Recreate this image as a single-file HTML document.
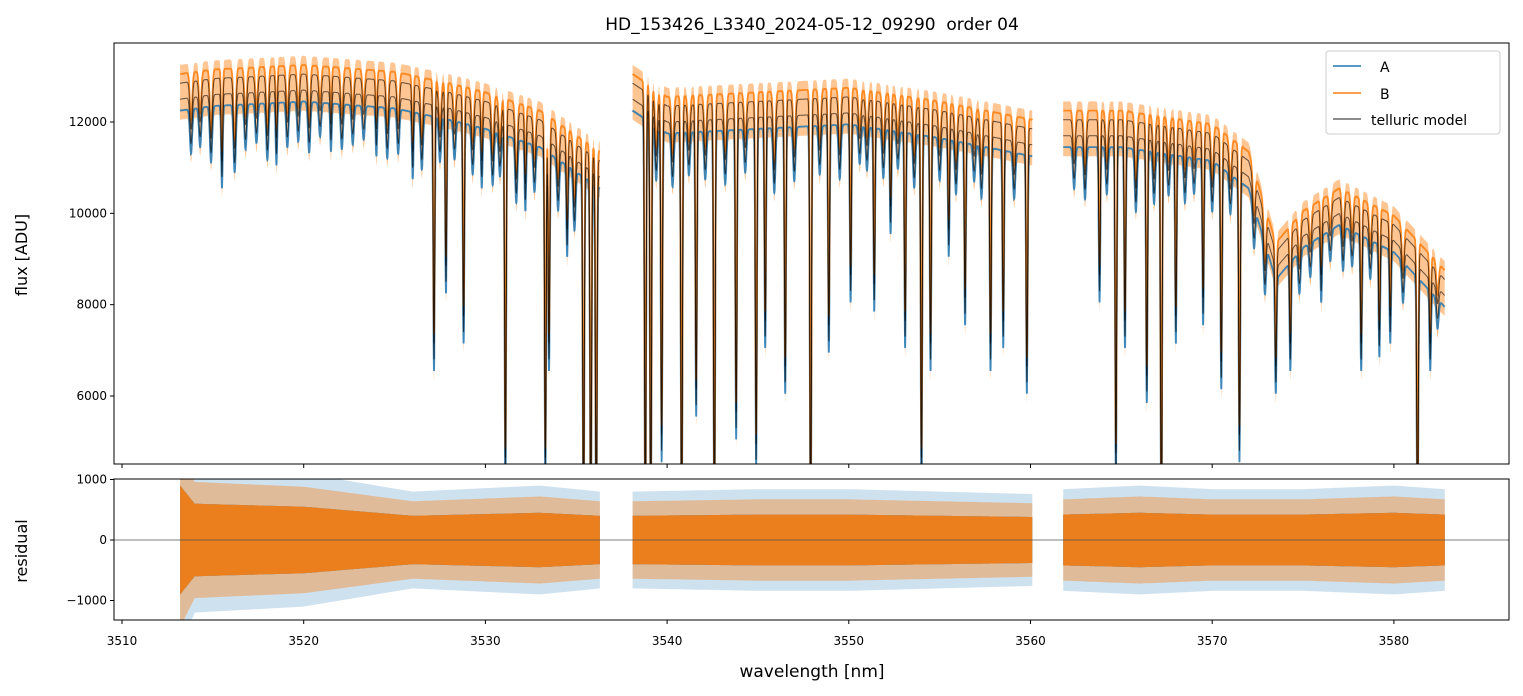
<!DOCTYPE html>
<html><head><meta charset="utf-8">
<style>
html,body{margin:0;padding:0;background:#fff;}
svg{display:block;font-family:"DejaVu Sans","Liberation Sans",sans-serif;}
</style></head>
<body>
<svg id="chart" width="1523" height="696" viewBox="0 0 1523 696" xmlns="http://www.w3.org/2000/svg">
<rect width="1523" height="696" fill="#fff"/>
<text x="812" y="30" font-size="17" text-anchor="middle" style="white-space:pre">HD_153426_L3340_2024-05-12_09290  order 04</text>
<g id="gtop"></g>
<g id="gbot"></g>
<text x="27" y="255" font-size="16" text-anchor="middle" transform="rotate(-90 27 255)">flux [ADU]</text>
<text x="27" y="551" font-size="16" text-anchor="middle" transform="rotate(-90 27 551)">residual</text>
<text x="812" y="677" font-size="17" text-anchor="middle">wavelength [nm]</text>
<g>
<rect x="1326" y="51" width="174" height="83" rx="3" fill="#fff" fill-opacity="0.8" stroke="#ccc"/>
<line x1="1333" y1="66" x2="1361" y2="66" stroke="#1f77b4" stroke-width="1.5"/>
<text x="1380" y="72" font-size="14">A</text>
<line x1="1333" y1="93" x2="1361" y2="93" stroke="#ff7f0e" stroke-width="1.5"/>
<text x="1380" y="99" font-size="14">B</text>
<line x1="1333" y1="119" x2="1361" y2="119" stroke="#000" stroke-opacity="0.6" stroke-width="1.5"/>
<text x="1371" y="125" font-size="14">telluric model</text>
</g>
</svg>
<script>
// ---- data ----
const segments = [[3513.2,3536.3],[3538.1,3560.1],[3561.8,3582.8]];
const contWl = [3513.2,3515,3520,3525,3528,3530,3533,3536.3, 3538.1,3540,3545,3550,3555,3560.1, 3561.8,3565,3570,3572,3573.5,3575,3577,3580,3582.8];
const contFlux = [12700,12800,12900,12750,12500,12300,11900,11000, 12700,12200,12300,12400,12100,11700, 11900,11900,11600,11000,9000,9700,10200,9600,8400];
const lineWl = [3515.5,3518.5,3521.5,3524,3526,3527.17,3527.83,3528.8,3529.8,3531.1,3532.2,3533.3,3533.5,3534.5,3535.4,3535.8,3536.1,
 3538.8,3539.1,3539.7,3540.8,3541.6,3542.6,3543.8,3544.9,3545.4,3546.5,3547.9,3548.9,3550.1,3551.4,3552.3,3553.1,3554.0,3554.5,3555.5,3556.4,3557.8,3558.5,3559.8,
 3563.8,3564.7,3565.2,3566.4,3567.2,3568.0,3569.5,3570.5,3571.5,3573.5,3574.3,3576.0,3578.2,3579.2,3579.8,3581.3,3582.0];
const lineMin = [11000,11500,11800,11700,11200,7000,8700,7600,11000,4500,10500,4500,7000,9500,3000,3000,3000,
 3000,3000,5000,3000,6000,3000,5500,4800,7500,6500,3000,7400,8500,8300,10000,7500,4500,7000,9500,8000,7000,7500,6500,
 8500,4600,7500,6300,3000,7600,8000,6600,5000,6500,7000,8500,7000,7300,7600,3000,7000];
const weakWl = [3513.8,3514.3,3514.9,3516.2,3516.8,3517.4,3518.0,3519.1,3519.7,3520.3,3520.9,3522.1,3522.7,3523.3,3524.6,3525.2,3526.5,3527.5,3528.3,3529.3,3530.4,3530.8,3531.7,3532.7,3534.0,3534.9,
 3539.4,3540.3,3541.2,3542.1,3543.2,3544.3,3545.9,3547.0,3548.4,3549.5,3550.6,3551.0,3551.9,3552.7,3553.6,3555.0,3555.9,3556.9,3557.3,3559.1,
 3562.4,3563.0,3564.2,3565.8,3566.8,3567.6,3568.5,3569.0,3570.0,3571.0,3572.3,3572.9,3574.8,3575.4,3576.5,3577.2,3577.7,3578.7,3580.5,3582.4];
const weakFrac = [0.08,0.07,0.1,0.12,0.08,0.07,0.1,0.08,0.07,0.09,0.06,0.08,0.07,0.06,0.09,0.08,0.1,0.08,0.07,0.09,0.1,0.08,0.12,0.09,0.1,0.12,
 0.1,0.1,0.08,0.09,0.1,0.08,0.12,0.1,0.09,0.1,0.07,0.08,0.09,0.07,0.1,0.08,0.1,0.07,0.1,0.09,
 0.08,0.1,0.09,0.12,0.1,0.08,0.09,0.07,0.1,0.08,0.09,0.12,0.1,0.08,0.07,0.1,0.08,0.09,0.1,0.08];
const resWl = [3513.2,3514,3520,3526,3533,3536.3, 3538.1,3545,3550,3555,3560.1, 3561.8,3566,3570,3575,3580,3582.8];
const resAmp = [900,600,550,400,450,400, 400,420,420,400,380, 420,450,420,420,450,420];
const xTicks = [3510,3520,3530,3540,3550,3560,3570,3580];
const yTicksTop = [6000,8000,10000,12000];
const yTicksBot = [-1000,0,1000];
// ---- axes ----
const L=114,R=1509,T1=43,B1=464,T2=479,B2=620;
const X = w => 122 + (w-3510)*18.17;
const Y1 = f => 122 - (f-12000)*0.04567;
const Y2 = r => 540 - r*0.0605;
const NS="http://www.w3.org/2000/svg";
function mk(parent,tag,attrs){const e=document.createElementNS(NS,tag);for(const k in attrs)e.setAttribute(k,attrs[k]);parent.appendChild(e);return e;}
function interp(xs,ys,x){if(x<=xs[0])return ys[0];for(let i=1;i<xs.length;i++){if(x<=xs[i]){const t=(x-xs[i-1])/(xs[i]-xs[i-1]);return ys[i-1]+t*(ys[i]-ys[i-1]);}}return ys[ys.length-1];}
function model(w,off){let c=interp(contWl,contFlux,w)+off;let f=c;
 for(let i=0;i<lineWl.length;i++){const d=Math.min(0.99,Math.max(0,1-(lineMin[i]+off)/c));const z=(w-lineWl[i])/0.06;if(Math.abs(z)<4)f*=1-d*Math.exp(-z*z);}
 for(let i=0;i<weakWl.length;i++){const z=(w-weakWl[i])/0.09;if(Math.abs(z)<4)f*=1-weakFrac[i]*Math.exp(-z*z);}
 return f;}
function clampY1(v){return Math.max(T1-5,Math.min(B1+5,v));}
const gTop=document.getElementById('gtop'), gBot=document.getElementById('gbot');
const cp=mk(gTop,'clipPath',{id:'c1'});
mk(cp,'rect',{x:L,y:T1,width:R-L,height:B1-T1});
function pathFor(off){
  const segs=[];
  for(const [a,b] of segments){const pts=[];for(let w=a;w<=b;w+=0.005){pts.push(X(w).toFixed(1)+','+clampY1(Y1(model(w,off))).toFixed(1));}segs.push(pts);}
  return segs;
}
const bandLo=pathFor(-650), bandHi=pathFor(550);
for(let s=0;s<segments.length;s++){
  const d='M'+bandHi[s].join('L')+'L'+bandLo[s].slice().reverse().join('L')+'Z';
  const p=mk(gTop,'path',{d:d,fill:'#ff7f0e','fill-opacity':0.45,'clip-path':'url(#c1)'});
  
  
}
function series(off,color,width,opacity,name){
  const segs=pathFor(off);let d='';for(const s of segs)d+='M'+s.join('L');
  const p=mk(gTop,'path',{d:d,fill:'none',stroke:color,'stroke-width':width,'stroke-opacity':opacity,'clip-path':'url(#c1)'});
  
  
}
series(-450,'#1f77b4',1.8,0.85,'series-a');
series(350,'#ff7f0e',1.8,0.85,'series-b');
series(-200,'#000',1,0.6,'model-a');
series(150,'#000',1,0.6,'model-b');
mk(gTop,'rect',{x:L,y:T1,width:R-L,height:B1-T1,fill:'none',stroke:'#000','stroke-width':1});
// residual bands
for(const [a,b] of segments){
  for(const [col,sc,op,nm] of [['#1f77b4',2.0,0.22,'residual-a-outer'],['#ff7f0e',1.6,0.38,'residual-b-outer'],['#1f77b4',1.0,0.9,'residual-a'],['#ff7f0e',1.0,0.9,'residual-b']]){
    let up='',dn=[];
    for(let w=a;w<=b;w+=0.1){const A=interp(resWl,resAmp,w)*sc;up+=(up?'L':'M')+X(w).toFixed(1)+','+Math.max(T2,Y2(A)).toFixed(1);dn.push(X(w).toFixed(1)+','+Math.min(B2,Y2(-A)).toFixed(1));}
    const p=mk(gBot,'path',{d:up+'L'+dn.reverse().join('L')+'Z',fill:col,'fill-opacity':op});
    
    
  }
}
mk(gBot,'line',{x1:L,x2:R,y1:Y2(0),y2:Y2(0),stroke:'#555','stroke-width':0.8});
mk(gBot,'rect',{x:L,y:T2,width:R-L,height:B2-T2,fill:'none',stroke:'#000','stroke-width':1});
// ticks
for(const t of xTicks){
  mk(gTop,'line',{x1:X(t),x2:X(t),y1:B1,y2:B1+4,stroke:'#000'});
  mk(gBot,'line',{x1:X(t),x2:X(t),y1:B2,y2:B2+4,stroke:'#000'});
  const tx=mk(gBot,'text',{x:X(t),y:B2+25,'font-size':12,'text-anchor':'middle'});tx.textContent=t;
  
  
}
for(const t of yTicksTop){
  mk(gTop,'line',{x1:L-4,x2:L,y1:Y1(t),y2:Y1(t),stroke:'#000'});
  const tx=mk(gTop,'text',{x:L-7,y:Y1(t)+4,'font-size':12,'text-anchor':'end'});tx.textContent=t;
  
  
}
for(const t of yTicksBot){
  mk(gBot,'line',{x1:L-4,x2:L,y1:Y2(t),y2:Y2(t),stroke:'#000'});
  const tx=mk(gBot,'text',{x:L-7,y:Y2(t)+4,'font-size':12,'text-anchor':'end'});tx.textContent=(t<0?'\u2212'+(-t):t);
  
  
}
</script>
</body></html>
